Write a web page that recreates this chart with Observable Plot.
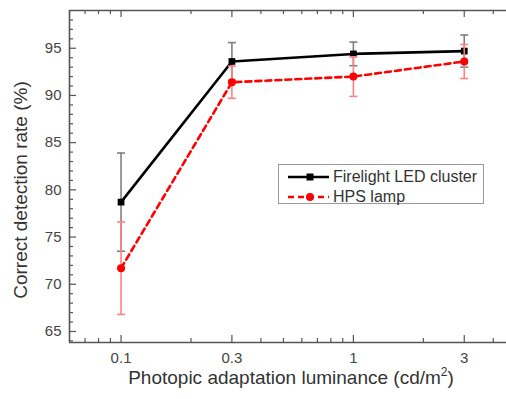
<!DOCTYPE html>
<html>
<head>
<meta charset="utf-8">
<script src="https://cdn.jsdelivr.net/npm/d3@7"></script>
<script src="https://cdn.jsdelivr.net/npm/@observablehq/plot@0.6"></script>
<style>
  html, body { margin: 0; padding: 0; background: #fff; }
  #wrap { position: relative; width: 506px; height: 399px; font-family: "Liberation Sans", Arial, sans-serif; }
  #legend { position: absolute; left: 278px; top: 164px; width: 206px; height: 40px; border: 1.3px solid #999; box-sizing: border-box; background: #fff; }
  .lg-row { position: absolute; left: 0; height: 18px; display: flex; align-items: center; }
  .lg-row span { font-size: 16px; color: #333; margin-left: 2px; }
</style>
</head>
<body>
<div id="wrap"></div>
<script>
// ---- data ----
const luminance = [0.1, 0.3, 1, 3];
const ledMean = [78.7, 93.6, 94.4, 94.7];
const ledErr = [5.2, 2.0, 1.25, 1.7];
const hpsMean = [71.7, 91.4, 92.0, 93.6];
const hpsErr = [4.9, 1.7, 2.1, 1.8];
const seriesNames = ["Firelight LED cluster", "HPS lamp"];
const majorTicksX = [0.1, 0.3, 1, 3];
const minorTicksX = [0.06, 0.07, 0.08, 0.09, 0.2, 0.4, 0.5, 0.6, 0.7, 0.8, 0.9, 2, 4];
const majorTicksY = [65, 70, 75, 80, 85, 90, 95];
const minorTicksY = d3.range(64, 99).filter(v => v % 5 !== 0);
const xDomain = [0.06, 4.56];
const yDomain = [63.83, 99.0];

const led = luminance.map((x, i) => ({x, y: ledMean[i], lo: ledMean[i] - ledErr[i], hi: ledMean[i] + ledErr[i]}));
const hps = luminance.map((x, i) => ({x, y: hpsMean[i], lo: hpsMean[i] - hpsErr[i], hi: hpsMean[i] + hpsErr[i]}));

const W = 506, H = 399, mT = 10, mB = 57, mL = 69, mR = 0;
const frameH = H - mT - mB;
const frameW = W - mL - mR;

const cap = {draw(ctx, size) { const r = Math.sqrt(size / Math.PI); ctx.moveTo(-r, 0); ctx.lineTo(r, 0); }};

function errorMarks(data, color) {
  return [
    Plot.ruleX(data, {x: "x", y1: "lo", y2: "hi", stroke: color, strokeWidth: 1.6}),
    Plot.dot(data, {x: "x", y: "hi", symbol: cap, r: 4, stroke: color, strokeWidth: 1.6, fill: "none"}),
    Plot.dot(data, {x: "x", y: "lo", symbol: cap, r: 4, stroke: color, strokeWidth: 1.6, fill: "none"})
  ];
}

const chart = Plot.plot({
  width: W, height: H,
  marginTop: mT, marginBottom: mB, marginLeft: mL, marginRight: mR,
  style: {fontFamily: "Liberation Sans, Arial, sans-serif", background: "#fff"},
  x: {type: "log", domain: xDomain, axis: null},
  y: {domain: yDomain, axis: null},
  marks: [
    // frame lines
    Plot.ruleY([yDomain[0]], {stroke: "#555", strokeWidth: 1.6}),
    Plot.ruleY([yDomain[1]], {stroke: "#555", strokeWidth: 1.6}),
    Plot.ruleX([xDomain[0]], {stroke: "#555", strokeWidth: 1.6}),
    // x ticks (inward, bottom and top)
    Plot.tickX(majorTicksX, {x: d => d, insetTop: frameH - 7, stroke: "#555", strokeWidth: 1.2}),
    Plot.tickX(majorTicksX, {x: d => d, insetBottom: frameH - 7, stroke: "#555", strokeWidth: 1.2}),
    Plot.tickX(minorTicksX.filter(d => d > xDomain[0]), {x: d => d, insetTop: frameH - 4, stroke: "#555", strokeWidth: 1.2}),
    Plot.tickX(minorTicksX.filter(d => d > xDomain[0]), {x: d => d, insetBottom: frameH - 4, stroke: "#555", strokeWidth: 1.2}),
    // y ticks (inward, left)
    Plot.tickY(majorTicksY, {y: d => d, insetRight: frameW - 7, stroke: "#555", strokeWidth: 1.2}),
    Plot.tickY(minorTicksY, {y: d => d, insetRight: frameW - 4, stroke: "#555", strokeWidth: 1.2}),
    // tick labels
    Plot.text(majorTicksY, {x: xDomain[0], y: d => d, text: d => String(d), dx: -8, textAnchor: "end", fontSize: 15, fill: "#444"}),
    Plot.text(majorTicksX, {x: d => d, y: yDomain[0], text: d => String(d), dy: 16, fontSize: 15, fill: "#444"}),
    // LED series
    ...errorMarks(led, "#808080"),
    Plot.line(led, {x: "x", y: "y", stroke: "#000", strokeWidth: 2.6}),
    Plot.dot(led, {x: "x", y: "y", symbol: "square", r: 3.8, fill: "#000"}),
    // HPS series
    ...errorMarks(hps, "#ff8080"),
    Plot.line(hps, {x: "x", y: "y", stroke: "#ff0000", strokeWidth: 2.6, strokeDasharray: "6,4"}),
    Plot.dot(hps, {x: "x", y: "y", symbol: "circle", r: 4, fill: "#ff0000"})
  ]
});

const wrap = document.getElementById("wrap");
wrap.appendChild(chart);

// axis titles
const svg = d3.select(chart);
svg.append("text")
  .attr("transform", "translate(27,190) rotate(-90)")
  .attr("text-anchor", "middle")
  .attr("font-size", 19).attr("fill", "#333")
  .text("Correct detection rate (%)");
const xt = svg.append("text")
  .attr("x", 291).attr("y", 384)
  .attr("text-anchor", "middle")
  .attr("font-size", 19).attr("fill", "#333");
xt.append("tspan").text("Photopic adaptation luminance (cd/m");
xt.append("tspan").attr("font-size", 12).attr("dy", -8).text("2");
xt.append("tspan").attr("dy", 8).text(")");

// legend
const legend = document.createElement("div");
legend.id = "legend";
const samples = [
  {name: seriesNames[0], stroke: "#000", dash: null, marker: "rect"},
  {name: seriesNames[1], stroke: "#ff0000", dash: "6,4", marker: "circle"}
];
samples.forEach((s, i) => {
  const row = document.createElement("div");
  row.className = "lg-row";
  row.style.top = (i === 0 ? 3 : 23) + "px";
  const ns = "http://www.w3.org/2000/svg";
  const sv = document.createElementNS(ns, "svg");
  sv.setAttribute("width", 52); sv.setAttribute("height", 18);
  const ln = document.createElementNS(ns, "line");
  ln.setAttribute("x1", 9); ln.setAttribute("x2", 50); ln.setAttribute("y1", 9); ln.setAttribute("y2", 9);
  ln.setAttribute("stroke", s.stroke); ln.setAttribute("stroke-width", 2.6);
  if (s.dash) ln.setAttribute("stroke-dasharray", s.dash);
  sv.appendChild(ln);
  let m;
  if (s.marker === "rect") {
    m = document.createElementNS(ns, "rect");
    m.setAttribute("x", 27.5); m.setAttribute("y", 5.5); m.setAttribute("width", 7); m.setAttribute("height", 7);
  } else {
    m = document.createElementNS(ns, "circle");
    m.setAttribute("cx", 31); m.setAttribute("cy", 9); m.setAttribute("r", 4);
  }
  m.setAttribute("fill", s.stroke);
  sv.appendChild(m);
  row.appendChild(sv);
  const t = document.createElement("span");
  t.textContent = s.name;
  row.appendChild(t);
  legend.appendChild(row);
});
wrap.appendChild(legend);
</script>
</body>
</html>
